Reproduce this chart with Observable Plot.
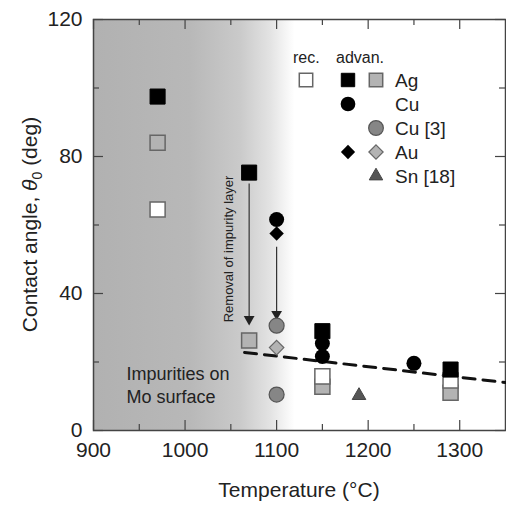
<!DOCTYPE html>
<html><head><meta charset="utf-8">
<script src="https://cdn.jsdelivr.net/npm/d3@7"></script>
<script src="https://cdn.jsdelivr.net/npm/@observablehq/plot@0.6"></script>
<style>body{margin:0;background:#fff} #chart{position:relative;width:506px;height:508px}</style>
</head><body><div id="chart"></div>
<script>
// ---- data (temperature °C, contact angle deg) ----
const agAdvT = [970, 1070, 1150, 1290];
const agAdvV = [97.5, 75.3, 29, 17.8];
const agRecT = [970, 1150, 1290];
const agRecV = [64.5, 15.8, 14.6];
const agRefT = [970, 1070, 1150, 1290];
const agRefV = [84, 26.3, 12.8, 11];
const cuT = [1100, 1150, 1150, 1250];
const cuV = [61.6, 25.4, 21.6, 19.6];
const cu3T = [1100, 1100];
const cu3V = [30.6, 10.5];
const auAdvT = [1100];
const auAdvV = [57.5];
const auRefT = [1100];
const auRefV = [24.2];
const snT = [1190];
const snV = [10.2];
const trendT = [1065, 1350];
const trendV = [22.8, 14];
const arrowT = [1070, 1100];
const arrowFrom = [72, 53.5];
const arrowTo = [32.5, 34];
const xTicks = [900, 1000, 1100, 1200, 1300];
const xMinor = [950, 1050, 1150, 1250];
const yTicks = [0, 40, 80, 120];
const yMinor = [20, 60, 100];
const shadeRange = [900, 1120];
const legendRows = ["Ag", "Cu", "Cu [3]", "Au", "Sn [18]"];

const zip = (t, v) => t.map((d, i) => ({t: d, v: v[i]}));

const W = 506, H = 508, mL = 93, mR = 1, mT = 19, mB = 78;
const pW = W - mL - mR, pH = H - mT - mB;
const font = "'Liberation Sans', Arial, sans-serif";

const grayFill = "#b3b3b3", grayStroke = "#666";
const darkGray = "#868686";

const plot = Plot.plot({
  width: W, height: H,
  marginLeft: mL, marginRight: mR, marginTop: mT, marginBottom: mB,
  style: {fontFamily: font, fontSize: "21px", color: "#222", background: "white"},
  x: {domain: [900, 1350]},
  y: {domain: [0, 120]},
  marks: [
    Plot.rect([shadeRange], {x1: d => d[0], x2: d => d[1], y1: 0, y2: 120, fill: "#bbb", className: "shade"}),
    // inward ticks
    Plot.ruleX(xTicks, {x: d => d, insetTop: pH - 10, stroke: "#444", strokeWidth: 1.2}),
    Plot.ruleX(xMinor, {x: d => d, insetTop: pH - 6, stroke: "#444", strokeWidth: 1.2}),
    Plot.ruleX(xTicks, {x: d => d, insetBottom: pH - 10, stroke: "#444", strokeWidth: 1.2}),
    Plot.ruleX(xMinor, {x: d => d, insetBottom: pH - 6, stroke: "#444", strokeWidth: 1.2}),
    Plot.ruleY(yTicks, {y: d => d, insetRight: pW - 10, stroke: "#444", strokeWidth: 1.2}),
    Plot.ruleY(yMinor, {y: d => d, insetRight: pW - 6, stroke: "#444", strokeWidth: 1.2}),
    Plot.ruleY(yTicks, {y: d => d, insetLeft: pW - 10, stroke: "#444", strokeWidth: 1.2}),
    Plot.ruleY(yMinor, {y: d => d, insetLeft: pW - 6, stroke: "#444", strokeWidth: 1.2}),
    Plot.frame({stroke: "#444", strokeWidth: 1.5}),
    Plot.axisX(xTicks, {tickSize: 0, tickPadding: 12, label: null, fill: "#222", tickFormat: d3.format("d")}),
    Plot.axisY(yTicks, {tickSize: 0, tickPadding: 11, label: null, fill: "#222", tickFormat: d3.format("d")}),
    // trend line
    Plot.line(zip(trendT, trendV), {x: "t", y: "v", stroke: "#111", strokeWidth: 3, strokeDasharray: "12,8"}),
    // arrows
    Plot.ruleX(arrowT.map((t, i) => ({t, a: arrowFrom[i], b: arrowTo[i]})), {x: "t", y1: "a", y2: "b", stroke: "#333", strokeWidth: 1.2}),
    Plot.dot(arrowT.map((t, i) => ({t, b: arrowTo[i]})), {x: "t", y: "b", symbol: "triangle", rotate: 180, r: 4, fill: "#222", stroke: "none"}),
    // annotations
    Plot.text(["Impurities on\nMo surface"], {x: 936, y: 13.6, text: d => d, textAnchor: "start", lineHeight: 1.3, fontSize: 18, fill: "#222"}),
    Plot.text(["Removal of impurity layer"], {x: 1048, y: 53, text: d => d, rotate: -90, fontSize: 13, fill: "#222"}),
    // data
    Plot.dot(zip(agRefT, agRefV), {x: "t", y: "v", symbol: "square", r: 8.5, fill: grayFill, stroke: grayStroke, strokeWidth: 1.5}),
    Plot.dot(zip(agRecT, agRecV), {x: "t", y: "v", symbol: "square", r: 8.5, fill: "white", stroke: grayStroke, strokeWidth: 1.5}),
    Plot.dot(zip(cu3T, cu3V), {x: "t", y: "v", symbol: "circle", r: 7.5, fill: darkGray, stroke: "#555", strokeWidth: 1.2}),
    Plot.dot(zip(auRefT, auRefV), {x: "t", y: "v", symbol: "diamond2", r: 6.5, fill: grayFill, stroke: grayStroke, strokeWidth: 1.2}),
    Plot.dot(zip(snT, snV), {x: "t", y: "v", symbol: "triangle2", r: 6.5, fill: "#555", stroke: "#444", strokeWidth: 1}),
    Plot.dot(zip(agAdvT, agAdvV), {x: "t", y: "v", symbol: "square", r: 8.5, fill: "black", stroke: "black", strokeWidth: 1}),
    Plot.dot(zip(cuT, cuV), {x: "t", y: "v", symbol: "circle", r: 7.5, fill: "black", stroke: "none"}),
    Plot.dot(zip(auAdvT, auAdvV), {x: "t", y: "v", symbol: "diamond2", r: 6.5, fill: "black", stroke: "none"})
  ]
});

const svg = d3.select(plot);
// gradient
const defs = svg.insert("defs", ":first-child");
const g = defs.append("linearGradient").attr("id", "impGrad").attr("x1", 0).attr("x2", 1).attr("y1", 0).attr("y2", 0);
[[0, "#b1b1b1"], [0.48, "#b8b8b8"], [0.73, "#cacaca"], [0.88, "#e3e3e3"], [1, "#ffffff"]]
  .forEach(([o, c]) => g.append("stop").attr("offset", o).attr("stop-color", c));
svg.selectAll(".shade rect").attr("fill", "url(#impGrad)");

// axis labels
const yl = svg.append("text")
  .attr("transform", `translate(37,${mT + pH / 2}) rotate(-90)`)
  .attr("text-anchor", "middle").attr("font-size", 21).attr("fill", "#222").attr("font-family", font);
yl.append("tspan").text("Contact angle, ");
yl.append("tspan").attr("font-style", "italic").text("θ");
yl.append("tspan").attr("font-size", 14).attr("dy", 5).text("0");
yl.append("tspan").attr("dy", -5).text(" (deg)");
svg.append("text").attr("x", mL + pW / 2).attr("y", 497).attr("text-anchor", "middle")
  .attr("font-size", 21).attr("fill", "#222").attr("font-family", font).text("Temperature (°C)");

// legend
const lg = svg.append("g").attr("font-family", font).attr("fill", "#222").attr("text-anchor", "start");
lg.append("text").attr("x", 293).attr("y", 63).attr("font-size", 16).text("rec.");
lg.append("text").attr("x", 336).attr("y", 63).attr("font-size", 16).text("advan.");
const rowY = [80, 104, 128, 152, 176];
const sym = (type, size) => d3.symbol(type, size)();
const colRec = 306, colAdv = 348, colRef = 376;
function item(x, y, type, size, fill, stroke, sw) {
  lg.append("path").attr("d", sym(type, size)).attr("transform", `translate(${x},${y})`)
    .attr("fill", fill).attr("stroke", stroke).attr("stroke-width", sw);
}
item(colRec, rowY[0], d3.symbolSquare, 180, "white", grayStroke, 1.5);
item(colAdv, rowY[0], d3.symbolSquare, 180, "black", "black", 1);
item(colRef, rowY[0], d3.symbolSquare, 180, grayFill, grayStroke, 1.5);
item(colAdv, rowY[1], d3.symbolCircle, 170, "black", "none", 0);
item(colRef, rowY[2], d3.symbolCircle, 170, darkGray, "#555", 1.2);
item(colAdv, rowY[3], d3.symbolDiamond2, 130, "black", "none", 0);
item(colRef, rowY[3], d3.symbolDiamond2, 130, grayFill, grayStroke, 1.2);
item(colRef, rowY[4], d3.symbolTriangle2, 130, "#555", "#444", 1);
legendRows.forEach((t, i) => lg.append("text").attr("x", 395).attr("y", rowY[i] + 7).attr("font-size", 19).text(t));

document.getElementById("chart").appendChild(plot);
</script></body></html>
